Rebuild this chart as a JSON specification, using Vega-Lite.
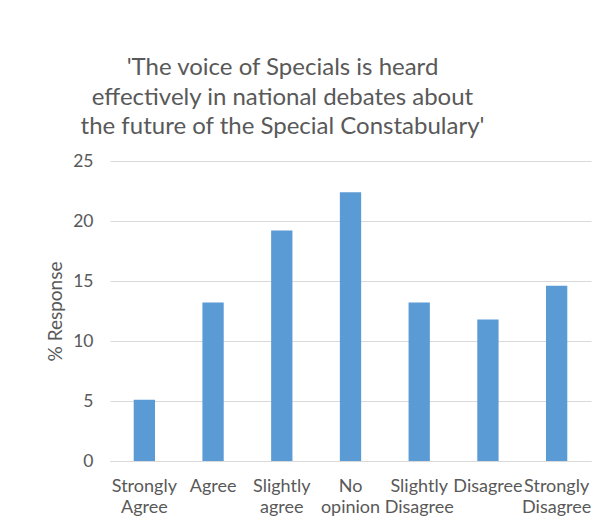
{
  "$schema": "https://vega.github.io/schema/vega-lite/v6.json",
  "autosize": {"type": "none"},
  "width": 481,
  "height": 300,
  "padding": {"left": 110, "top": 161, "right": 20, "bottom": 68},
  "background": "white",
  "title": {
    "text": ["'The voice of Specials is heard", "effectively in national debates about", "the future of the Special Constabulary'"],
    "font": "Lato",
    "fontSize": 24,
    "fontWeight": "normal",
    "color": "#595959",
    "lineHeight": 29.5,
    "anchor": "middle",
    "dx": -68,
    "offset": 13
  },
  "data": {
    "values": [
      {"response": "Strongly Agree", "pct": 5.1},
      {"response": "Agree", "pct": 13.2},
      {"response": "Slightly agree", "pct": 19.2},
      {"response": "No opinion", "pct": 22.4},
      {"response": "Slightly Disagree", "pct": 13.2},
      {"response": "Disagree", "pct": 11.8},
      {"response": "Strongly Disagree", "pct": 14.6}
    ]
  },
  "mark": {"type": "bar", "color": "#5B9BD5"},
  "encoding": {
    "x": {
      "field": "response",
      "type": "nominal",
      "sort": null,
      "scale": {"paddingInner": 0.69, "paddingOuter": 0.345},
      "axis": {
        "title": null,
        "labelAngle": 0,
        "labelExpr": "split(datum.label, ' ')",
        "labelFont": "Lato",
        "labelFontSize": 18,
        "labelColor": "#595959",
        "labelLineHeight": 21,
        "labelPadding": 16,
        "labelOverlap": false,
        "labelBound": false,
        "ticks": false,
        "domainColor": "#d9d9d9",
        "domainWidth": 1
      }
    },
    "y": {
      "field": "pct",
      "type": "quantitative",
      "scale": {"domain": [0, 25], "nice": false},
      "axis": {
        "title": "% Response",
        "titleFont": "Lato",
        "titleFontSize": 19,
        "titleFontWeight": "normal",
        "titleColor": "#595959",
        "titleX": -55,
        "titleY": 150,
        "titleBaseline": "middle",
        "titleAlign": "center",
        "values": [0, 5, 10, 15, 20, 25],
        "labelFont": "Lato",
        "labelFontSize": 17.5,
        "labelColor": "#595959",
        "labelPadding": 17,
        "ticks": false,
        "domain": false,
        "gridColor": "#d9d9d9",
        "gridWidth": 1
      }
    }
  },
  "config": {"view": {"stroke": null}}
}
